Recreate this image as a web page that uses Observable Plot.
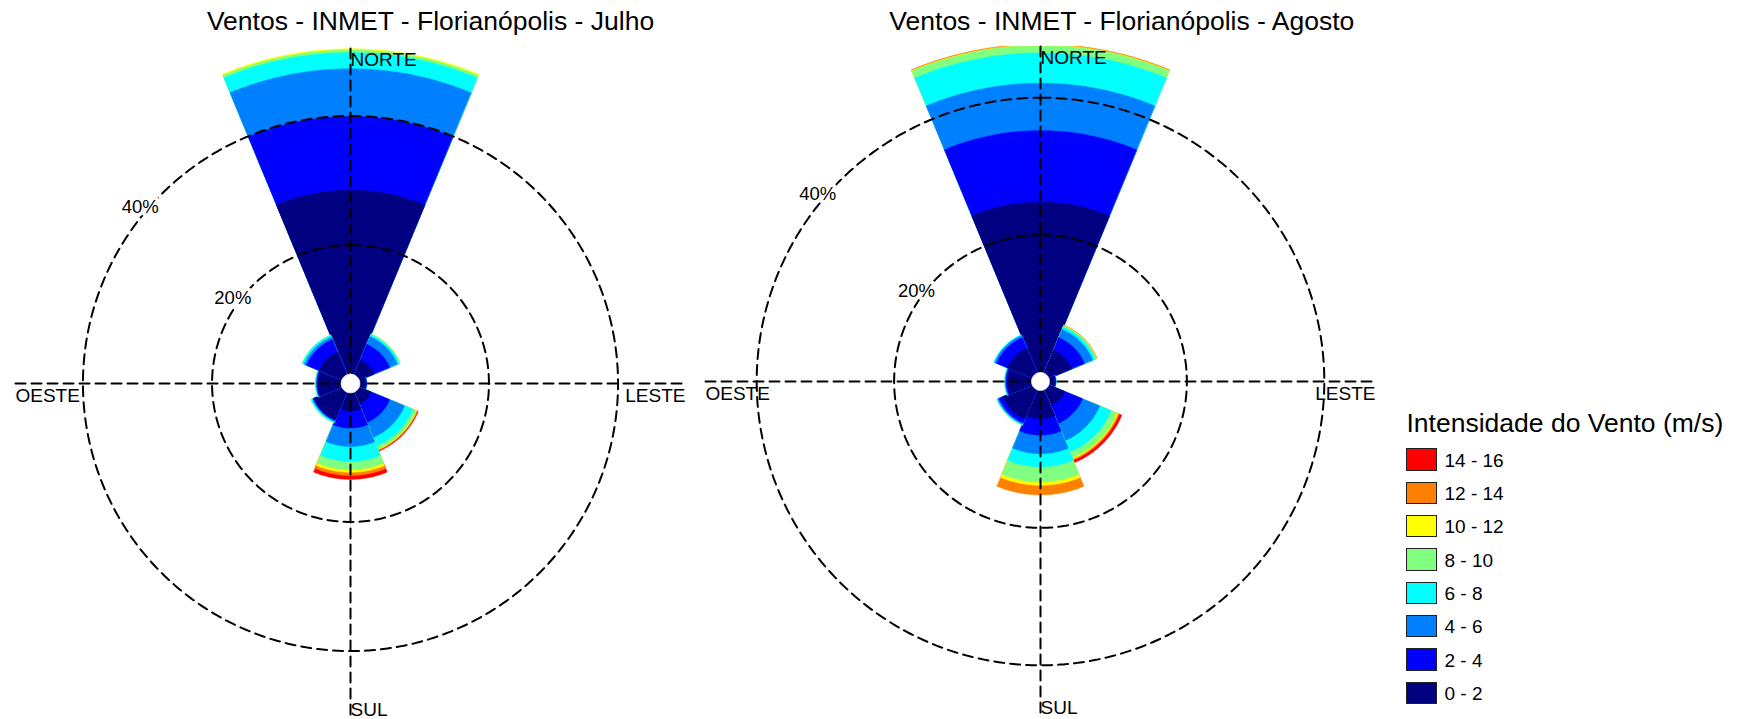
<!DOCTYPE html>
<html><head><meta charset="utf-8">
<script src="https://cdn.jsdelivr.net/npm/d3@7"></script>
<script src="https://cdn.jsdelivr.net/npm/@observablehq/plot@0.6"></script>
<style>
html,body{margin:0;padding:0;background:#fff;}
#root{position:relative;width:1738px;height:719px;overflow:hidden;font-family:"Liberation Sans",Arial,sans-serif;color:#000;}
.title{position:absolute;width:800px;text-align:center;font-size:26.5px;line-height:1;white-space:nowrap;}
.chart{position:absolute;}
.ltitle{position:absolute;font-size:26.5px;line-height:1;white-space:nowrap;}
.sw{position:absolute;box-sizing:border-box;border:1px solid #222;}
.sl{position:absolute;font-size:19px;line-height:1;white-space:nowrap;}
</style></head><body><div id="root"></div>
<script>
// ---- data ----
const directions = ["N", "NE", "E", "SE", "S", "SW", "W", "NW"];
const directionAngles = [0, 45, 90, 135, 180, 225, 270, 315];
const speedBins = ["0 - 2", "2 - 4", "4 - 6", "6 - 8", "8 - 10", "10 - 12", "12 - 14", "14 - 16"];
const binColors = ["#000080", "#0000ff", "#0080ff", "#00ffff", "#80ff80", "#ffff00", "#ff8000", "#ff0000"];
const ringValues = [20, 40];
const ringLabels = ["20%", "40%"];
const axisLabels = ["NORTE", "LESTE", "SUL", "OESTE"];
const legendTitle = "Intensidade do Vento (m/s)";
const titles = ["Ventos - INMET - Florianópolis - Julho", "Ventos - INMET - Florianópolis - Agosto"];

// frequency (%) per speed class, by direction [N, NE, E, SE, S, SW, W, NW]
const julho_0_2   = [28.5, 2.5, 0.95, 2.0, 2.8, 4.6, 3.6, 3.8];
const julho_2_4   = [11.4, 2.6, 0.05, 3.1, 2.65, 0.15, 0.15, 2.1];
const julho_4_6   = [7.4, 1.3, 0.08, 2.5, 2.85, 0.15, 0.1, 0.4];
const julho_6_8   = [2.5, 0.3, 0.02, 1.4, 2.3, 0.2, 0.1, 0.3];
const julho_8_10  = [0.4, 0.2, 0, 0.55, 1.3, 0.1, 0.1, 0.1];
const julho_10_12 = [0.2, 0, 0, 0.1, 0.4, 0, 0, 0];
const julho_12_14 = [0, 0, 0, 0.1, 0.5, 0, 0, 0];
const julho_14_16 = [0, 0, 0, 0.15, 0.6, 0, 0, 0];

const agosto_0_2   = [24.8, 3.6, 0.8, 2.5, 4.1, 4.6, 3.5, 3.9];
const agosto_2_4   = [10.4, 2.0, 0.1, 2.8, 2.4, 0.6, 0.2, 1.7];
const agosto_4_6   = [6.9, 1.3, 0.05, 2.7, 2.7, 0.2, 0.1, 0.3];
const agosto_6_8   = [4.4, 0.4, 0.05, 1.8, 1.9, 0.1, 0.1, 0.15];
const agosto_8_10  = [1.1, 0.15, 0, 0.9, 2.2, 0.1, 0.05, 0];
const agosto_10_12 = [0.05, 0.05, 0, 0.2, 0.5, 0, 0, 0];
const agosto_12_14 = [0.15, 0.1, 0, 0.2, 1.4, 0, 0, 0];
const agosto_14_16 = [0, 0, 0, 0.4, 0, 0, 0, 0];

const julhoValues = [julho_0_2, julho_2_4, julho_4_6, julho_6_8, julho_8_10, julho_10_12, julho_12_14, julho_14_16];
const agostoValues = [agosto_0_2, agosto_2_4, agosto_4_6, agosto_6_8, agosto_8_10, agosto_10_12, agosto_12_14, agosto_14_16];

// ---- layout ----
const HALF = 335;
const charts = [
  {title: titles[0], values: julhoValues, cx: 349.5, cy: 382.7, extent: 51.9, hole: 1.45, titleX: 430.5},
  {title: titles[1], values: agostoValues, cx: 1039.6, cy: 380.7, extent: 48.75, hole: 1.3, titleX: 1121.8}
];

const root = document.getElementById("root");

function pol(deg, r) { const t = deg * Math.PI / 180; return [r * Math.sin(t), r * Math.cos(t)]; }
function arc(a0, a1, r) { const p = []; const n = Math.max(2, Math.ceil(Math.abs(a1 - a0) / 0.5)); for (let i = 0; i <= n; i++) p.push(pol(a0 + (a1 - a0) * i / n, r)); return p; }

function drawChart(c) {
  const U = c.extent, off = c.hole;
  const sectors = [];
  directions.forEach((dir, i) => {
    const th = directionAngles[i];
    let cum = 0; const cums = [];
    c.values.forEach(arr => { cum += arr[i]; cums.push(cum); });
    for (let j = speedBins.length - 1; j >= 0; j--) {
      if (c.values[j][i] <= 0) continue;
      const outer = off + cums[j];
      const ringPts = [[0, 0], ...arc(th - 22.5, th + 22.5, outer), [0, 0]];
      sectors.push({type: "Feature", properties: {bin: speedBins[j], dir}, geometry: {type: "Polygon", coordinates: [ringPts]}});
    }
  });
  const circles = ringValues.map(v => ({type: "Feature", properties: {}, geometry: {type: "LineString", coordinates: arc(0, 360, off + v)}}));
  const axes = [
    {type: "Feature", properties: {}, geometry: {type: "LineString", coordinates: [[-U, 0], [U, 0]]}},
    {type: "Feature", properties: {}, geometry: {type: "LineString", coordinates: [[0, U], [0, -U]]}}
  ];
  const hole = {type: "Feature", properties: {}, geometry: {type: "Polygon", coordinates: [arc(360, 0, off)]}};
  const ringAngles = [-54, -50];
  const ringText = ringValues.map((v, k) => { const [x, y] = pol(ringAngles[k], off + v); return {x, y, label: ringLabels[k], a: ringAngles[k]}; });
  const dirText = [
    {x: 0, y: U, label: axisLabels[0], anchor: "start", dx: 0, dy: 11.7},
    {x: U, y: 0, label: axisLabels[1], anchor: "end", dx: 0, dy: 12.5},
    {x: 0, y: -U, label: axisLabels[2], anchor: "start", dx: 0, dy: -8.7},
    {x: -U, y: 0, label: axisLabels[3], anchor: "start", dx: 0, dy: 12.5}
  ];
  const svg = Plot.plot({
    width: 2 * HALF, height: 2 * HALF, margin: 0,
    style: {background: "transparent", overflow: "visible", fontFamily: "Liberation Sans, Arial, sans-serif"},
    projection: {type: "reflect-y", inset: 0, domain: {type: "MultiPoint", coordinates: [[-U, -U], [U, U]]}},
    color: {type: "ordinal", domain: speedBins, range: binColors},
    marks: [
      Plot.geo(sectors, {fill: d => d.properties.bin, stroke: d => d.properties.bin, strokeWidth: 0.6}),
      Plot.geo(circles, {stroke: "black", fill: "none", strokeWidth: 2, strokeDasharray: "10,6"}),
      Plot.geo(axes, {stroke: "black", fill: "none", strokeWidth: 2, strokeDasharray: "10,6"}),
      Plot.geo([hole], {fill: "white", stroke: "white", strokeWidth: 1}),
      ...ringText.map(t => Plot.text([t], {x: "x", y: "y", text: "label", fontSize: 18.5, fill: "black",
        stroke: "white", strokeWidth: 7, paintOrder: "stroke",
        dx: 7 * Math.sin(t.a * Math.PI / 180), dy: -7 * Math.cos(t.a * Math.PI / 180)})),
      ...dirText.map(t => Plot.text([t], {x: "x", y: "y", text: "label", fontSize: 19, fill: "black", textAnchor: t.anchor, dx: t.dx, dy: t.dy}))
    ]
  });
  const wrap = document.createElement("div");
  wrap.className = "chart";
  wrap.style.left = (c.cx - HALF) + "px";
  wrap.style.top = (c.cy - HALF) + "px";
  wrap.appendChild(svg);
  root.appendChild(wrap);

  const t = document.createElement("div");
  t.className = "title";
  t.textContent = c.title;
  t.style.left = (c.titleX - 400) + "px";
  t.style.top = "7.6px";
  root.appendChild(t);
}
charts.forEach(drawChart);

// ---- legend ----
const lt = document.createElement("div");
lt.className = "ltitle"; lt.textContent = legendTitle;
lt.style.left = "1406.5px"; lt.style.top = "409.6px";
root.appendChild(lt);
const order = speedBins.map((b, i) => i).reverse();
order.forEach((bi, k) => {
  const top = 448.3 + k * 33.33;
  const s = document.createElement("div");
  s.className = "sw";
  s.style.left = "1406px"; s.style.top = top + "px"; s.style.width = "31px"; s.style.height = "22.4px";
  s.style.background = binColors[bi];
  root.appendChild(s);
  const l = document.createElement("div");
  l.className = "sl"; l.textContent = speedBins[bi];
  l.style.left = "1444.5px"; l.style.top = (top + 18.4 - 16.1) + "px";
  root.appendChild(l);
});
</script></body></html>
